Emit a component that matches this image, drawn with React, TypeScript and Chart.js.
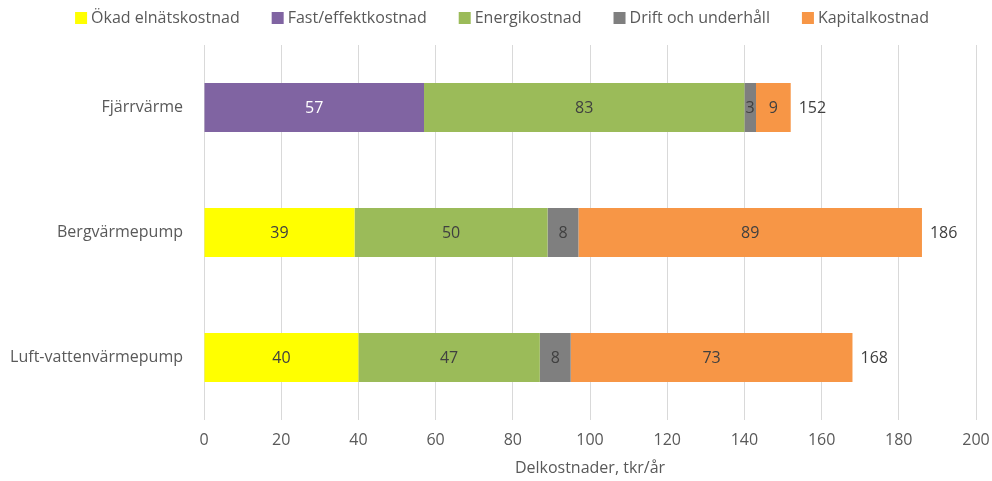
import React, { useEffect, useRef } from "react";
import { Chart, registerables } from "chart.js";

Chart.register(...registerables);

const categories = ["Fjärrvärme", "Bergvärmepump", "Luft-vattenvärmepump"];
const seriesNames = [
  "Ökad elnätskostnad",
  "Fast/effektkostnad",
  "Energikostnad",
  "Drift och underhåll",
  "Kapitalkostnad",
];
const okadElnat = [0, 39, 40];
const fastEffekt = [57, 0, 0];
const energi = [83, 50, 47];
const driftUnderhall = [3, 8, 8];
const kapital = [9, 89, 73];
const seriesColors = ["#FFFF00", "#8064A2", "#9BBB59", "#7F7F7F", "#F79646"];
const labelColors = ["#404040", "#FFFFFF", "#404040", "#404040", "#404040"];
const xTicksMax = 200;
const xStep = 20;
const xTitle = "Delkostnader, tkr/år";

const FONT = "'Open Sans', sans-serif";
const TEXT = "#595959";
const FS = 16;

export default function App() {
  const ref = useRef<HTMLCanvasElement | null>(null);
  useEffect(() => {
    document.body.style.margin = "0";
    const values = [okadElnat, fastEffekt, energi, driftUnderhall, kapital];
    const totals = categories.map((_, i) => values.reduce((s, arr) => s + arr[i], 0));

    const labelsPlugin = {
      id: "labelsPlugin",
      afterDatasetsDraw(chart: any) {
        const ctx = chart.ctx;
        ctx.save();
        ctx.font = `${FS}px ${FONT}`;
        ctx.textBaseline = "middle";
        chart.data.datasets.forEach((ds: any, di: number) => {
          const meta = chart.getDatasetMeta(di);
          meta.data.forEach((bar: any, i: number) => {
            const v = ds.data[i];
            if (!v) return;
            const { x, y, base } = bar.getProps(["x", "y", "base"], true);
            ctx.fillStyle = labelColors[di];
            ctx.textAlign = "center";
            ctx.fillText(String(v), (x + base) / 2, y + 1);
          });
        });
        const last = chart.getDatasetMeta(chart.data.datasets.length - 1);
        const xs = chart.scales.x;
        last.data.forEach((bar: any, i: number) => {
          ctx.fillStyle = "#404040";
          ctx.textAlign = "left";
          ctx.fillText(String(totals[i]), xs.getPixelForValue(totals[i]) + 8, bar.y + 1);
        });
        ctx.restore();
      },
      afterDraw(chart: any) {
        const ctx = chart.ctx;
        ctx.save();
        ctx.font = `${FS}px ${FONT}`;
        ctx.textBaseline = "middle";
        ctx.textAlign = "left";
        const box = 12;
        const gapBox = 4;
        const gapItem = 32;
        const widths = seriesNames.map((n) => box + gapBox + ctx.measureText(n).width);
        const total = widths.reduce((a, b) => a + b, 0) + gapItem * (widths.length - 1);
        let x = 502 - total / 2;
        const y = 18;
        seriesNames.forEach((n, i) => {
          ctx.fillStyle = seriesColors[i];
          ctx.fillRect(x, y - box / 2, box, box);
          ctx.fillStyle = TEXT;
          ctx.fillText(n, x + box + gapBox, y);
          x += widths[i] + gapItem;
        });
        ctx.restore();
      },
    };

    const chart = new Chart(ref.current as HTMLCanvasElement, {
      type: "bar",
      data: {
        labels: categories,
        datasets: values.map((d, i) => ({
          label: seriesNames[i],
          data: d,
          backgroundColor: seriesColors[i],
          borderWidth: 0,
          categoryPercentage: 1,
          barPercentage: 0.392,
        })),
      },
      options: {
        indexAxis: "y",
        responsive: false,
        animation: false,
        layout: { padding: { top: 45, right: 0, left: 0, bottom: 0 } },
        plugins: {
          legend: { display: false },
          tooltip: { enabled: false },
        },
        scales: {
          x: {
            stacked: true,
            min: 0,
            max: xTicksMax,
            ticks: { stepSize: xStep, color: TEXT, font: { family: FONT, size: FS }, padding: 11 },
            grid: { color: "#D9D9D9", drawTicks: false },
            border: { display: false },
            title: {
              display: true,
              text: xTitle,
              color: TEXT,
              font: { family: FONT, size: FS },
              padding: { top: 2, bottom: 3 },
            },
            afterFit(scale: any) {
              scale.height = 61;
              scale.paddingRight = 16;
              scale.paddingLeft = 0;
            },
          },
          y: {
            stacked: true,
            ticks: { color: TEXT, font: { family: FONT, size: FS }, padding: 21 },
            grid: { display: false, drawTicks: false },
            border: { display: false },
            afterFit(scale: any) {
              scale.width = 204;
            },
          },
        },
      },
      plugins: [labelsPlugin],
    });
    return () => chart.destroy();
  }, []);

  return (
    <div style={{ width: 992, height: 481 }}>
      <canvas ref={ref} width={992} height={481} style={{ display: "block" }} />
    </div>
  );
}
